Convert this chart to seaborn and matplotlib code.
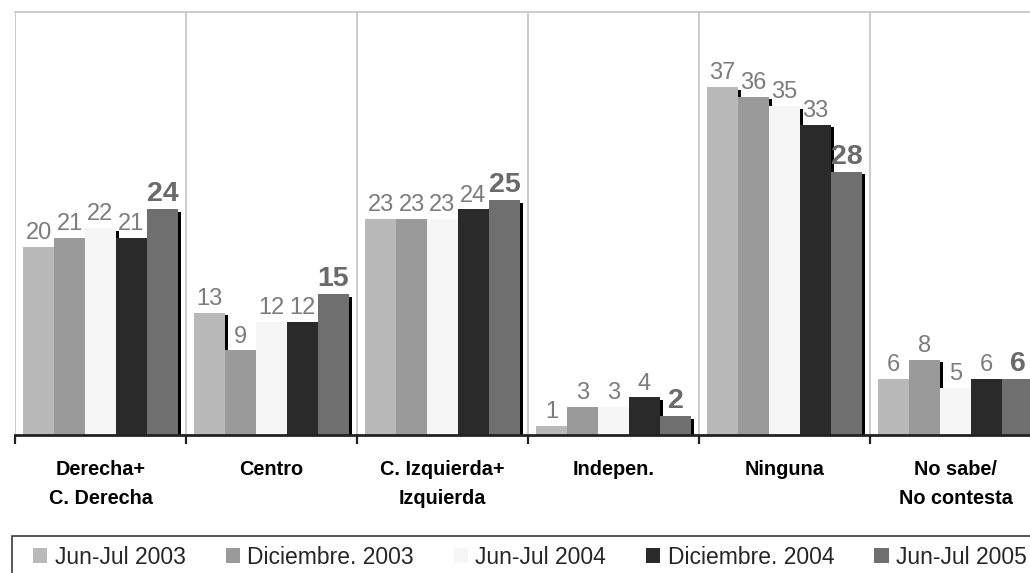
import numpy as np
import pandas as pd
import matplotlib
matplotlib.use("Agg")
import matplotlib.pyplot as plt
import matplotlib.transforms as mtransforms
from matplotlib.patches import Rectangle, Patch
import seaborn as sns

categories = ["Derecha+\nC. Derecha", "Centro", "C. Izquierda+\nIzquierda",
              "Indepen.", "Ninguna", "No sabe/\nNo contesta"]
series = ["Jun-Jul 2003", "Diciembre. 2003", "Jun-Jul 2004",
          "Diciembre. 2004", "Jun-Jul 2005"]
jun_jul_2003 = [20, 13, 23, 1, 37, 6]
dic_2003 = [21, 9, 23, 3, 36, 8]
jun_jul_2004 = [22, 12, 23, 3, 35, 5]
dic_2004 = [21, 12, 24, 4, 33, 6]
jun_jul_2005 = [24, 15, 25, 2, 28, 6]
colors = ["#b9b9b9", "#9a9a9a", "#f6f6f6", "#2a2a2a", "#6f6f6f"]

values = [jun_jul_2003, dic_2003, jun_jul_2004, dic_2004, jun_jul_2005]
df = pd.DataFrame({
    "cat": np.repeat([categories], len(series), axis=0).ravel(),
    "serie": np.repeat(series, len(categories)),
    "val": np.concatenate(values),
})

sns.set_theme(style="white")
plt.rcParams["font.family"] = ["Liberation Sans", "DejaVu Sans"]

W, H = 1030, 573
fig = plt.figure(figsize=(W / 100, H / 100), dpi=100)
ax = fig.add_axes([15 / W, 138 / H, 1026 / W, 423 / H])

sns.barplot(data=df, x="cat", y="val", hue="serie", order=categories,
            hue_order=series, palette=colors, saturation=1, width=0.906,
            gap=0, linewidth=0, legend=False, ax=ax, zorder=2)

# drop shadows (offset copies of the bars, black, behind)
shadow_tr = mtransforms.offset_copy(ax.transData, fig=fig, x=3, y=-2.5, units="dots")
for p in list(ax.patches):
    r = Rectangle(p.get_xy(), p.get_width(), p.get_height(), transform=shadow_tr,
                  facecolor="black", edgecolor="none", zorder=1.5)
    r.set_clip_box(ax.bbox)
    ax.add_patch(r)

# value labels
for i, cont in enumerate(ax.containers):
    if i == len(ax.containers) - 1:
        ax.bar_label(cont, fmt="%d", padding=1.5, fontsize=20.5, fontweight="bold",
                     color="#6a6a6a")
    else:
        ax.bar_label(cont, fmt="%d", padding=2, fontsize=17, color="#7c7c7c")

ax.set_ylim(0, 45)
ax.set_xlim(-0.5, len(categories) - 0.5)
ax.set_yticks([])
ax.set_ylabel("")
ax.set_xlabel("")

# ticks at category boundaries, labels at centers
ax.set_xticks(np.arange(len(categories) + 1) - 0.5)
ax.set_xticklabels([])
ax.set_xticks(np.arange(len(categories)), minor=True)
ax.set_xticklabels(categories, minor=True, fontsize=14.3, fontweight="bold",
                   linespacing=1.68, color="black")
ax.tick_params(axis="x", which="major", direction="out", length=6.5, width=1.6,
               color="#222222", bottom=True)
ax.tick_params(axis="x", which="minor", length=0, pad=18)
ax.grid(axis="x", which="major", color="#c4c4c4", linewidth=1.2)
ax.set_axisbelow(True)

for s in ["left", "right"]:
    ax.spines[s].set_visible(False)
ax.spines["top"].set_color("#c4c4c4")
ax.spines["top"].set_linewidth(1.2)
ax.spines["bottom"].set_color("#222222")
ax.spines["bottom"].set_linewidth(2)

# legend frame (extends past the figure edges, as in the original)
fig.patches.append(Rectangle((12 / W, -0.1), 1.2, 0.1 + (573 - 536) / H,
                             transform=fig.transFigure, facecolor="none",
                             edgecolor="#3a3a3a", linewidth=1.2))

handles = [Patch(facecolor=c, edgecolor="none") for c in colors]
fig.legend(handles, series, loc="center left",
           bbox_to_anchor=(33 / W, 1 - 557 / H), ncol=5, frameon=False,
           fontsize=16.5, handlelength=0.62, handleheight=0.62,
           handletextpad=0.32, columnspacing=1.75,
           borderpad=0, borderaxespad=0)

fig.savefig("out.png", dpi=100, facecolor="white")
